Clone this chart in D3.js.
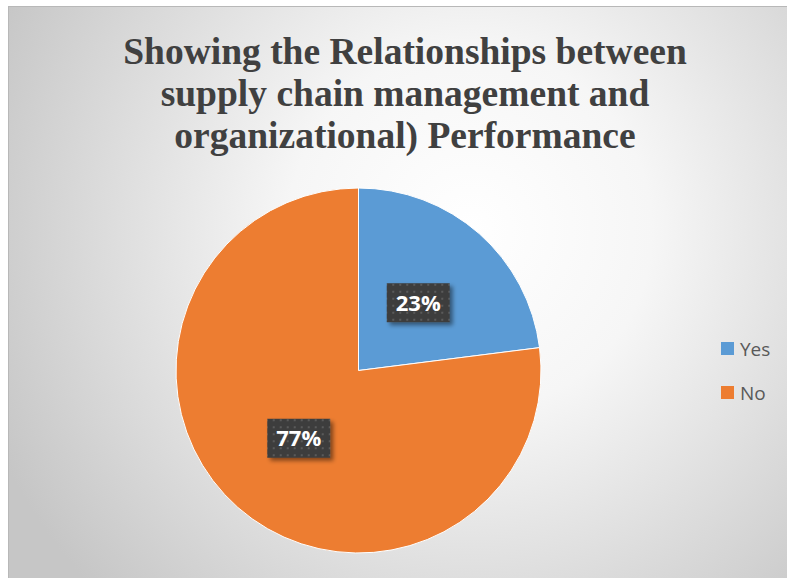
<!DOCTYPE html>
<html>
<head>
<meta charset="utf-8">
<script src="https://cdn.jsdelivr.net/npm/d3@7"></script>
<style>
  html, body { margin: 0; padding: 0; background: #ffffff; }
  svg { display: block; }
</style>
</head>
<body>
<svg id="chart" width="787" height="578"></svg>
<script>
// Survey answers and their shares (percent)
const categories = ["Yes", "No"];
const shares = [23, 77];
const sliceColors = ["#5B9BD5", "#ED7D31"];
const titleLines = [
  "Showing the Relationships between",
  "supply chain management and",
  "organizational) Performance"
];

const W = 787, H = 578;
const svg = d3.select("#chart");
const defs = svg.append("defs");

// Soft radial backdrop of the chart area
const bg = defs.append("radialGradient")
  .attr("id", "bgGrad")
  .attr("gradientUnits", "userSpaceOnUse")
  .attr("cx", 470).attr("cy", 230).attr("r", 520);
bg.append("stop").attr("offset", "0%").attr("stop-color", "#ffffff");
bg.append("stop").attr("offset", "35%").attr("stop-color", "#f6f6f6");
bg.append("stop").attr("offset", "100%").attr("stop-color", "#c6c6c6");

// Dotted dark fill for the data label boxes
const pat = defs.append("pattern")
  .attr("id", "dots")
  .attr("patternUnits", "userSpaceOnUse")
  .attr("width", 7).attr("height", 7);
pat.append("rect").attr("width", 7).attr("height", 7).attr("fill", "#3d3d3d");
pat.append("rect").attr("x", 2).attr("y", 2).attr("width", 2).attr("height", 2).attr("fill", "#5a5a5a");

const shadow = defs.append("filter").attr("id", "shadow")
  .attr("x", "-20%").attr("y", "-20%").attr("width", "150%").attr("height", "150%");
shadow.append("feDropShadow")
  .attr("dx", 3).attr("dy", 3).attr("stdDeviation", 2)
  .attr("flood-color", "#000").attr("flood-opacity", 0.45);

const frame = { x: 8, y: 6, w: W - 8, h: H - 6 };
svg.append("rect")
  .attr("x", frame.x + 0.5).attr("y", frame.y + 0.5)
  .attr("width", frame.w).attr("height", frame.h)
  .attr("fill", "url(#bgGrad)")
  .attr("stroke", "#b8b8b8").attr("stroke-width", 1);

// Title
const title = svg.append("text")
  .attr("text-anchor", "middle")
  .attr("font-family", "'Liberation Serif', 'Times New Roman', serif")
  .attr("font-weight", "bold")
  .attr("font-size", 37.5)
  .attr("fill", "#404040");
titleLines.forEach((line, i) => {
  title.append("tspan").attr("x", 405).attr("y", 64 + i * 42).text(line);
});

// Pie
const cx = 358.5, cy = 370.5, R = 182.5;
const data = categories.map((c, i) => ({ category: c, value: shares[i], color: sliceColors[i] }));
const pie = d3.pie().value(d => d.value).sort(null);
const arcs = pie(data);
const arc = d3.arc().innerRadius(0).outerRadius(R);

const g = svg.append("g").attr("transform", `translate(${cx},${cy})`);
g.selectAll("path.slice")
  .data(arcs)
  .join("path")
  .attr("class", "slice")
  .attr("d", arc)
  .attr("fill", d => d.data.color)
  .attr("stroke", "#ffffff")
  .attr("stroke-width", 1);

// Data labels at mid-radius
const labelArc = d3.arc().innerRadius(R * 0.495).outerRadius(R * 0.495);
const labels = g.selectAll("g.lbl")
  .data(arcs)
  .join("g")
  .attr("class", "lbl")
  .attr("transform", d => {
    const [x, y] = labelArc.centroid(d);
    return `translate(${x},${y})`;
  });
labels.append("rect")
  .attr("x", -31.5).attr("y", -19.5)
  .attr("width", 63).attr("height", 39)
  .attr("fill", "url(#dots)")
  .attr("filter", "url(#shadow)");
labels.append("text")
  .attr("text-anchor", "middle")
  .attr("dy", 8)
  .attr("font-family", "'Open Sans', 'Liberation Sans', sans-serif")
  .attr("font-weight", "bold")
  .attr("font-size", 22)
  .attr("fill", "#ffffff")
  .text(d => d3.format(".0%")(d.data.value / 100));

// Legend
const legend = svg.append("g").attr("transform", "translate(721,342)");
const items = legend.selectAll("g")
  .data(data)
  .join("g")
  .attr("transform", (d, i) => `translate(0,${i * 44})`);
items.append("rect")
  .attr("width", 13).attr("height", 13)
  .attr("fill", d => d.color);
items.append("text")
  .attr("x", 19).attr("y", 14)
  .attr("font-family", "'Open Sans', 'Liberation Sans', sans-serif")
  .attr("font-size", 19)
  .attr("fill", "#595959")
  .text(d => d.category);
</script>
</body>
</html>
